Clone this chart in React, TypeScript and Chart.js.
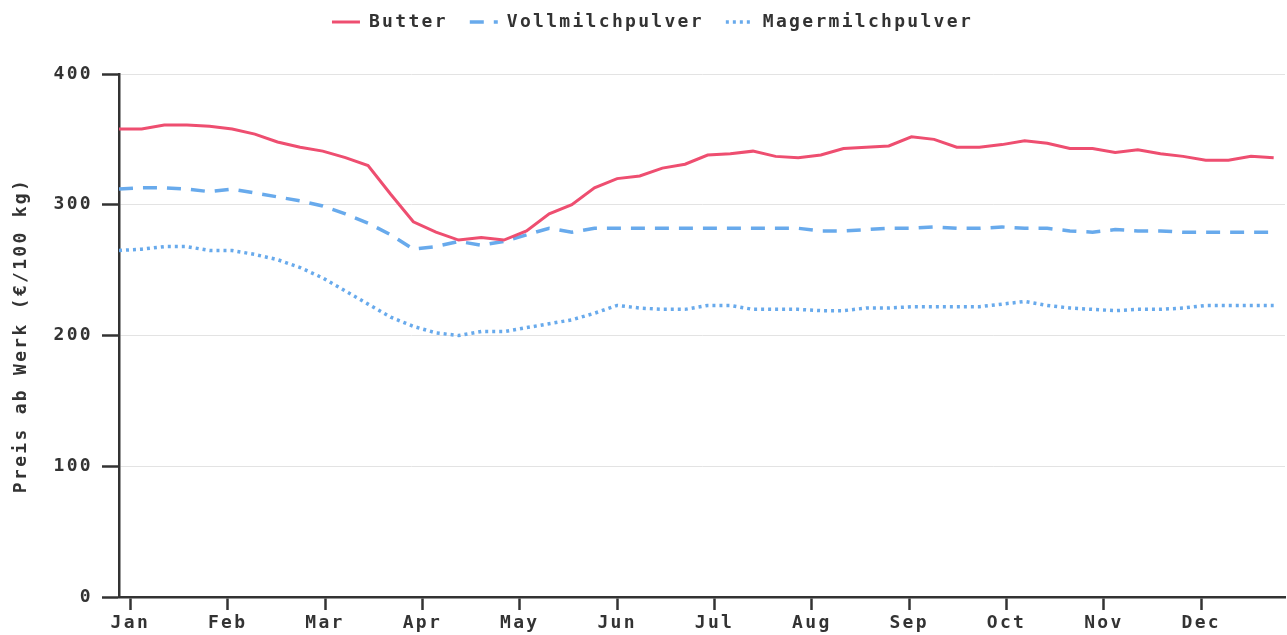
import React, { useEffect, useRef } from 'react';
import { Chart, registerables } from 'chart.js';

Chart.register(...registerables);

// ---- data ----
const MONTHS = ['Jan', 'Feb', 'Mar', 'Apr', 'May', 'Jun', 'Jul', 'Aug', 'Sep', 'Oct', 'Nov', 'Dec'];
const WEEKS = Array.from({ length: 52 }, (_, i) => i);
const BUTTER = [
  358, 358, 361, 361, 360, 358, 354, 348, 344, 341, 336, 330, 308, 287, 279, 273,
  275, 273, 280, 293, 300, 313, 320, 322, 328, 331, 338, 339, 341, 337, 336, 338,
  343, 344, 345, 352, 350, 344, 344, 346, 349, 347, 343, 343, 340, 342, 339, 337,
  334, 334, 337, 336,
];
const VOLLMILCH = [
  312, 313, 313, 312, 310, 312, 309, 306, 303, 299, 293, 286, 277, 266, 268, 272,
  269, 272, 277, 282, 279, 282, 282, 282, 282, 282, 282, 282, 282, 282, 282, 280,
  280, 281, 282, 282, 283, 282, 282, 283, 282, 282, 280, 279, 281, 280, 280, 279,
  279, 279, 279, 279,
];
const MAGERMILCH = [
  265, 266, 268, 268, 265, 265, 262, 258, 252, 244, 234, 224, 214, 207, 202, 200,
  203, 203, 206, 209, 212, 217, 223, 221, 220, 220, 223, 223, 220, 220, 220, 219,
  219, 221, 221, 222, 222, 222, 222, 224, 226, 223, 221, 220, 219, 220, 220, 221,
  223, 223, 223, 223,
];
const Y_TICKS = [0, 100, 200, 300, 400];
const MONTH_START = 0.5;
const WEEKS_PER_MONTH = 4.3;

const LS = '2.3px';
const FONT = { family: "'DejaVu Sans Mono', monospace", size: 18, weight: 'bold' as const };
const TEXT = '#333333';
const AXIS = '#333333';
const PINK = 'rgb(238,78,112)';
const BLUE = 'rgb(104,170,236)';

const spacingPlugin = {
  id: 'letterSpacingPlugin',
  beforeUpdate(chart: any) { chart.ctx.letterSpacing = LS; },
  beforeLayout(chart: any) { chart.ctx.letterSpacing = LS; },
  beforeDraw(chart: any) { chart.ctx.letterSpacing = LS; },
};

export default function App() {
  const ref = useRef<HTMLCanvasElement>(null);
  useEffect(() => {
    const canvas = ref.current;
    if (!canvas) return;
    const chart = new Chart(canvas, {
      type: 'line',
      data: {
        datasets: [
          {
            label: 'Butter',
            data: WEEKS.map((w, i) => ({ x: w, y: BUTTER[i] })),
            borderColor: PINK,
            backgroundColor: PINK,
            borderWidth: 3,
            borderDash: [],
            pointRadius: 0,
            tension: 0,
          },
          {
            label: 'Vollmilchpulver',
            data: WEEKS.map((w, i) => ({ x: w, y: VOLLMILCH[i] })),
            borderColor: BLUE,
            backgroundColor: BLUE,
            borderWidth: 3.5,
            borderDash: [14, 10],
            pointRadius: 0,
            tension: 0,
          },
          {
            label: 'Magermilchpulver',
            data: WEEKS.map((w, i) => ({ x: w, y: MAGERMILCH[i] })),
            borderColor: BLUE,
            backgroundColor: BLUE,
            borderWidth: 3.5,
            borderDash: [3, 4],
            pointRadius: 0,
            tension: 0,
          },
        ],
      },
      options: {
        animation: false,
        responsive: true,
        maintainAspectRatio: false,
        layout: { padding: { top: -9, left: 20, right: 2, bottom: 0 } },
        plugins: {
          legend: {
            position: 'top',
            weight: 1000,
            labels: {
              usePointStyle: true,
              pointStyle: 'line',
              pointStyleWidth: 28,
              padding: 22,
              font: FONT,
              color: TEXT,
              generateLabels: (c: any) => {
                const items = (Chart.defaults as any).plugins.legend.labels.generateLabels(c);
                items.forEach((it: any, i: number) => {
                  const ds: any = c.data.datasets[i];
                  it.lineDash = ds.borderDash || [];
                  it.lineWidth = ds.borderWidth;
                  it.strokeStyle = ds.borderColor;
                  it.fillStyle = ds.borderColor;
                  it.pointStyle = 'line';
                  it.lineCap = 'butt';
                });
                return items;
              },
            },
          } as any,
          title: {
            display: true,
            text: '',
            weight: 500,
            padding: { top: 32, bottom: 0 },
            font: { size: 1, lineHeight: 1 },
          } as any,
          tooltip: { enabled: false },
        },
        scales: {
          x: {
            type: 'linear',
            min: 0,
            max: 51.5,
            afterBuildTicks: (scale: any) => {
              scale.ticks = MONTHS.map((_, m) => ({ value: MONTH_START + m * WEEKS_PER_MONTH }));
            },
            afterFit: (scale: any) => { scale.height = 38; },
            ticks: {
              autoSkip: false,
              maxRotation: 0,
              padding: 3,
              font: FONT,
              color: TEXT,
              callback: (v: any) => MONTHS[Math.round((Number(v) - MONTH_START) / WEEKS_PER_MONTH)] ?? '',
            },
            grid: {
              display: true,
              drawOnChartArea: false,
              drawTicks: true,
              tickLength: 13,
              tickColor: AXIS,
              tickWidth: 2.5,
            },
            border: { display: true, color: AXIS, width: 2.5 },
          },
          y: {
            type: 'linear',
            min: 0,
            max: 400,
            afterBuildTicks: (scale: any) => {
              scale.ticks = Y_TICKS.map((v) => ({ value: v }));
            },
            afterFit: (scale: any) => { scale.width = 99; },
            ticks: {
              padding: 9,
              font: FONT,
              color: TEXT,
            },
            grid: {
              color: '#e3e3e3',
              lineWidth: 1,
              drawTicks: true,
              tickLength: 17,
              tickColor: AXIS,
              tickWidth: 2.5,
            },
            border: { display: true, color: AXIS, width: 2.5 },
            title: {
              display: true,
              text: 'Preis ab Werk (€/100 kg)',
              font: FONT,
              color: TEXT,
              padding: { top: -9.8, bottom: 0 },
            },
          },
        },
      },
      plugins: [spacingPlugin],
    } as any);
    return () => chart.destroy();
  }, []);

  return (
    <div style={{ position: 'fixed', left: 0, top: 0, width: 1287, height: 635, background: '#fff' }}>
      <canvas ref={ref} />
    </div>
  );
}
